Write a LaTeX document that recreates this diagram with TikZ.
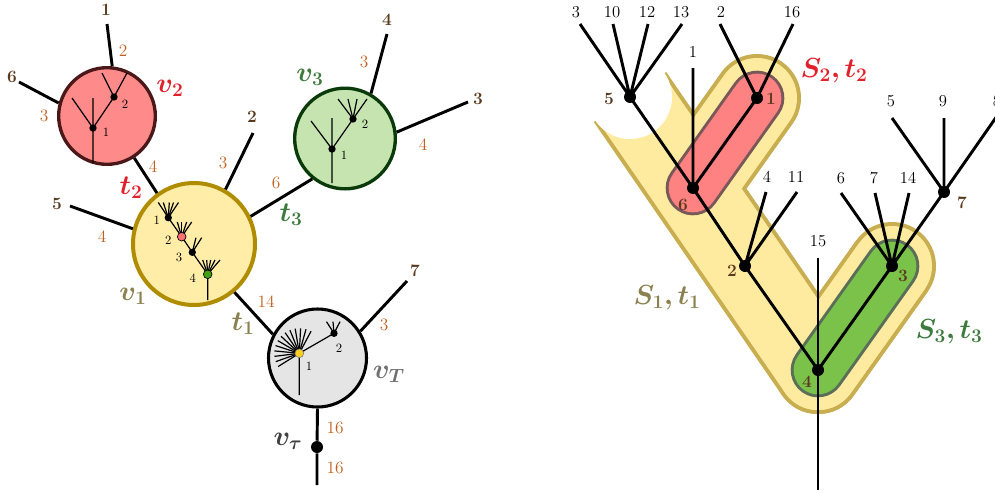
\documentclass[tikz,border=0pt]{standalone}
\usepackage{bm}
\usetikzlibrary{calc}
\definecolor{brownlab}{HTML}{5A3A1E}
\definecolor{orangelab}{HTML}{C0601E}
\definecolor{redlab}{HTML}{E0202A}
\definecolor{greenlab}{HTML}{3D7A3D}
\definecolor{olivelab}{HTML}{8A8050}
\definecolor{graylab}{HTML}{707070}
\definecolor{taulab}{HTML}{404040}
\definecolor{v2fill}{HTML}{FF8A8A}
\definecolor{v2line}{HTML}{4A1818}
\definecolor{v1fill}{HTML}{FFEDA8}
\definecolor{v1line}{HTML}{B08C00}
\definecolor{v3fill}{HTML}{C5E4B0}
\definecolor{v3line}{HTML}{0A3A0A}
\definecolor{vTfill}{HTML}{E5E5E5}
\definecolor{sonefill}{HTML}{FFEBA0}
\definecolor{soneline}{HTML}{C8AE50}
\definecolor{stwofill}{HTML}{FF8282}
\definecolor{stwoline}{HTML}{7A5858}
\definecolor{sthreefill}{HTML}{7BC24A}
\definecolor{sthreeline}{HTML}{5A6E58}
\definecolor{reddot}{HTML}{FF7070}
\definecolor{greendot}{HTML}{40A010}
\definecolor{yellowdot}{HTML}{FFD020}
\tikzset{
  tedge/.style={line width=2.2pt, black},
  iedge/.style={line width=0.9pt, black},
  bigdot/.style={circle, fill=black, inner sep=0pt, minimum size=9pt},
  smalldot/.style={circle, fill=black, inner sep=0pt, minimum size=5.5pt},
  cdot/.style={circle, draw=black, line width=0.5pt, inner sep=0pt, minimum size=6.5pt},
  leaflab/.style={font=\fontsize{12.5}{14}\selectfont, inner sep=0pt},
  blab/.style={font=\bfseries\fontsize{13}{15}\selectfont, text=brownlab, inner sep=0pt},
  olab/.style={font=\fontsize{13}{15}\selectfont, text=orangelab, inner sep=0pt},
  mlab/.style={font=\fontsize{20}{24}\selectfont, inner sep=0pt},
  ilab/.style={font=\fontsize{9.5}{11}\selectfont, inner sep=0pt},
  bag/.style={circle, inner sep=0pt},
  bandout/.style={soneline, line width=66pt, line join=round},
  bandin/.style={sonefill, line width=60pt, line join=round},
}
\begin{document}
\begin{tikzpicture}[x=0.75pt, y=-0.75pt]
\useasboundingbox (0,0) rectangle (995,493);

% ================= RIGHT: tree with sets =================
\coordinate (c5) at (630,97);
\coordinate (c1) at (757,98);
\coordinate (c6) at (693,188);
\coordinate (c2) at (745,266);
\coordinate (c4) at (818,370);
\coordinate (c3) at (892,266);
\coordinate (c7) at (944,192);

% S1 band
\draw[bandout, line cap=butt] (c5) -- (c4) -- (c3);
\draw[bandout, line cap=round] (c4) -- (c3) (c6) -- (c1);
\draw[bandin, line cap=butt] (c5) -- (c4) -- (c3);
\draw[bandin, line cap=round] (c4) -- (c3) (c6) -- (c1);
\fill[white] (c5) circle[radius=31.5pt];
% S2 capsule
\draw[stwoline, line width=41pt, line cap=round] (c6) -- (c1);
\draw[stwofill, line width=36.5pt, line cap=round] (c6) -- (c1);
% S3 capsule
\draw[sthreeline, line width=41pt, line cap=round] (c4) -- (c3);
\draw[sthreefill, line width=36.5pt, line cap=round] (c4) -- (c3);

% leaves
\coordinate (a3) at (580,24);
\coordinate (a10) at (613,24);
\coordinate (a12) at (648,24);
\coordinate (a13) at (682,24);
\coordinate (a2) at (720,24);
\coordinate (a16) at (793,24);
\coordinate (a1) at (693,68);
\coordinate (a4) at (766,192);
\coordinate (a11) at (797,192);
\coordinate (a15) at (818,258);
\coordinate (aroot) at (818,490);
\coordinate (a6) at (841,193);
\coordinate (a7) at (875,193);
\coordinate (a14) at (909,193);
\coordinate (a5) at (892,118);
\coordinate (a9) at (944,118);
\coordinate (a8) at (997,116);

\node[leaflab] (la3) at (576,12) {3};
\node[leaflab] (la10) at (612,12) {10};
\node[leaflab] (la12) at (647,12) {12};
\node[leaflab] (la13) at (681,12) {13};
\node[leaflab] (la2) at (721,12) {2};
\node[leaflab] (la16) at (792,12) {16};
\node[leaflab] (la1) at (693,52) {1};
\node[leaflab] (la4) at (767,177) {4};
\node[leaflab] (la11) at (796,177) {11};
\node[leaflab] (la15) at (818,241) {15};
\node[leaflab] (la6) at (841,178) {6};
\node[leaflab] (la7) at (874,178) {7};
\node[leaflab] (la14) at (908,178) {14};
\node[leaflab] (la5) at (891,101) {5};
\node[leaflab] (la9) at (943,101) {9};
\node[leaflab] (la8) at (997,101) {8};

% tree edges
\draw[tedge] (c5) -- (a3) (c5) -- (a10) (c5) -- (a12) (c5) -- (a13);
\draw[tedge] (c1) -- (a2) (c1) -- (a16);
\draw[tedge] (c6) -- (a1) (c6) -- (c1) (c6) -- (c5) (c6) -- (c2);
\draw[tedge] (c2) -- (a4) (c2) -- (a11) (c2) -- (c4);
\draw[tedge] (a15) -- (aroot);
\draw[tedge] (c4) -- (c3);
\draw[tedge] (c3) -- (a6) (c3) -- (a7) (c3) -- (a14) (c3) -- (c7);
\draw[tedge] (c7) -- (a5) (c7) -- (a9) (c7) -- (a8);

% tree nodes
\node[bigdot] (r5) at (c5) {};
\node[bigdot] (r1) at (c1) {};
\node[bigdot] (r6) at (c6) {};
\node[bigdot] (r2) at (c2) {};
\node[bigdot] (r4) at (c4) {};
\node[bigdot] (r3) at (c3) {};
\node[bigdot] (r7) at (c7) {};

\node[blab] (lr5) at (609,99) {5};
\node[blab] (lr1) at (771,99) {1};
\node[blab] (lr6) at (683,205) {6};
\node[blab] (lr2) at (732,271) {2};
\node[blab] (lr4) at (807,382) {4};
\node[blab] (lr3) at (903,276) {3};
\node[blab] (lr7) at (962,203) {7};

\node[mlab, text=redlab] (s2lab) at (834,71) {$\bm{S_2, t_2}$};
\node[mlab, text=olivelab] (s1lab) at (667,298) {$\bm{S_1, t_1}$};
\node[mlab, text=greenlab] (s3lab) at (949,332) {$\bm{S_3, t_3}$};

% ================= LEFT: bags =================
\node[bag, draw=v2line, fill=v2fill, line width=2.5pt, minimum size=72.5pt] (v2) at (107,116) {};
\node[bag, draw=v1line, fill=v1fill, line width=3pt, minimum size=91.5pt] (v1) at (194,244) {};
\node[bag, draw=v3line, fill=v3fill, line width=2.5pt, minimum size=75.5pt] (v3) at (345,138.5) {};
\node[bag, draw=black, fill=vTfill, line width=2.3pt, minimum size=73.5pt] (vT) at (317.5,358) {};

% outer leaves
\coordinate (b1) at (107,24);
\coordinate (b6) at (19,82);
\coordinate (b5) at (70,206);
\coordinate (b2) at (253,133);
\coordinate (b4) at (387,34);
\coordinate (b3) at (468,102);
\coordinate (b7) at (407,281);
\coordinate (bend) at (317,485);

\draw[tedge] (v2.84) -- (b1);
\draw[tedge] (v2.165) -- (b6);
\draw[tedge] (v2.-57) -- (v1.126);
\draw[tedge] (v1.166) -- (b5);
\draw[tedge] (v1.60) -- (b2);
\draw[tedge] (v1.26) -- (v3.-129);
\draw[tedge] (v1.-50) -- (vT.152);
\draw[tedge] (v3.60) -- (b4);
\draw[tedge] (v3.7) -- (b3);
\draw[tedge] (vT.32) -- (b7);
\node[bigdot] (vtau) at (317,447) {};
\draw[tedge] (vT.-90) -- (vtau) -- (bend);

\node[blab] (lb1) at (106,10) {1};
\node[blab] (lb6) at (12,77) {6};
\node[blab] (lb5) at (57,204) {5};
\node[blab] (lb2) at (252,117) {2};
\node[blab] (lb4) at (387,20) {4};
\node[blab] (lb3) at (478,99) {3};
\node[blab] (lb7) at (415,271) {7};

\node[olab] (o1) at (123,51) {2};
\node[olab] (o2) at (44,116) {3};
\node[olab] (o3) at (153,167) {4};
\node[olab] (o4) at (102,237) {4};
\node[olab] (o5) at (223,163) {3};
\node[olab] (o6) at (276,183) {6};
\node[olab] (o7) at (266,302) {14};
\node[olab] (o8) at (364,62) {3};
\node[olab] (o9) at (423,145) {4};
\node[olab] (o10) at (384,325) {3};
\node[olab] (o11) at (335,428) {16};
\node[olab] (o12) at (335,468) {16};

\node[mlab, text=redlab] (lv2) at (170,88) {$\bm{v_2}$};
\node[mlab, text=redlab] (lt2) at (131,188) {$\bm{t_2}$};
\node[mlab, text=olivelab] (lv1) at (133,296) {$\bm{v_1}$};
\node[mlab, text=olivelab] (lt1) at (243,324) {$\bm{t_1}$};
\node[mlab, text=greenlab] (lt3) at (291,215) {$\bm{t_3}$};
\node[mlab, text=greenlab] (lv3) at (310,77) {$\bm{v_3}$};
\node[mlab, text=graylab] (lvT) at (389,374) {$\bm{v_T}$};
\node[mlab, text=taulab] (lvtau) at (288,441) {$\bm{v_\tau}$};

% ---- inside v2
\coordinate (p1) at (93,128);
\coordinate (p2) at (114,97);
\coordinate (pd) at (93,163);
\coordinate (pu) at (93,98);
\coordinate (pl) at (72,98);
\coordinate (pa) at (102,73);
\coordinate (pb) at (127,73);
\draw[iedge] (pd) -- (p1) -- (pu) (p1) -- (pl) (p1) -- (p2) -- (pa) (p2) -- (pb);
\node[smalldot] (q1) at (p1) {};
\node[smalldot] (q2) at (p2) {};
\node[ilab] (lq1) at (106,132) {1};
\node[ilab] (lq2) at (125,104) {2};

% ---- inside v3
\coordinate (g1) at (332,149);
\coordinate (g2) at (353,119);
\coordinate (gd) at (332,183);
\coordinate (gu) at (332,118);
\coordinate (gl) at (311,121);
\draw[iedge] (gd) -- (g1) -- (gu) (g1) -- (gl) (g1) -- (g2);
\foreach \x [count=\k] in {338,348,357,367} {
  \coordinate (gleaf\k) at (\x,99);
  \draw[iedge] (g2) -- (gleaf\k);
}
\node[smalldot] (h1) at (g1) {};
\node[smalldot] (h2) at (g2) {};
\node[ilab] (lh1) at (344,155) {1};
\node[ilab] (lh2) at (365,124) {2};

% ---- inside v1
\coordinate (y1) at (168.3,217.7);
\coordinate (y2) at (181.7,236.7);
\coordinate (y3) at (192.3,252.3);
\coordinate (y4) at (207.7,274.3);
\coordinate (yd) at (207.7,300);
\draw[iedge] (y1) -- (y2) -- (y3) -- (y4) -- (yd);
\foreach \x [count=\k] in {158.3,163.3,169.3,173.5,178.5} {
  \coordinate (ya\k) at (\x,202.5);
  \draw[iedge] (y1) -- (ya\k);
}
\foreach \x [count=\k] in {177.3,181.7,186.7,191.7} {
  \coordinate (yb\k) at (\x,222);
  \draw[iedge] (y2) -- (yb\k);
}
\foreach \x [count=\k] in {196,201.7} {
  \coordinate (yc\k) at (\x,237.7);
  \draw[iedge] (y3) -- (yc\k);
}
\foreach \x [count=\k] in {202.7,206.7,210.7,215,220} {
  \coordinate (ye\k) at (\x,260);
  \draw[iedge] (y4) -- (ye\k);
}
\node[smalldot] (z1) at (y1) {};
\node[cdot, fill=reddot] (z2) at (y2) {};
\node[smalldot] (z3) at (y3) {};
\node[cdot, fill=greendot] (z4) at (y4) {};
\node[ilab] (lz1) at (156.7,220) {1};
\node[ilab] (lz2) at (168.3,240) {2};
\node[ilab] (lz3) at (179,257) {3};
\node[ilab] (lz4) at (192.7,278.3) {4};

% ---- inside vT
\coordinate (k1) at (299.3,353.3);
\coordinate (k2) at (334,333.3);
\coordinate (kd) at (299.3,395);
\draw[iedge] (kd) -- (k1) -- (k2);
\foreach \i in {0,...,12} {
  \pgfmathsetmacro{\ang}{62+12.5*\i}
  \coordinate (kf\i) at ($(k1)+(-\ang:25)$);
  \draw[iedge] (k1) -- (kf\i);
}
\foreach \x [count=\k] in {326.5,333,340} {
  \coordinate (kl\k) at (\x,321.7);
  \draw[iedge] (k2) -- (kl\k);
}
\node[cdot, fill=yellowdot, draw=gray] (m1) at (k1) {};
\node[smalldot] (m2) at (k2) {};
\node[ilab] (lm1) at (309,366) {1};
\node[ilab] (lm2) at (339,348) {2};

\end{tikzpicture}
\end{document}
